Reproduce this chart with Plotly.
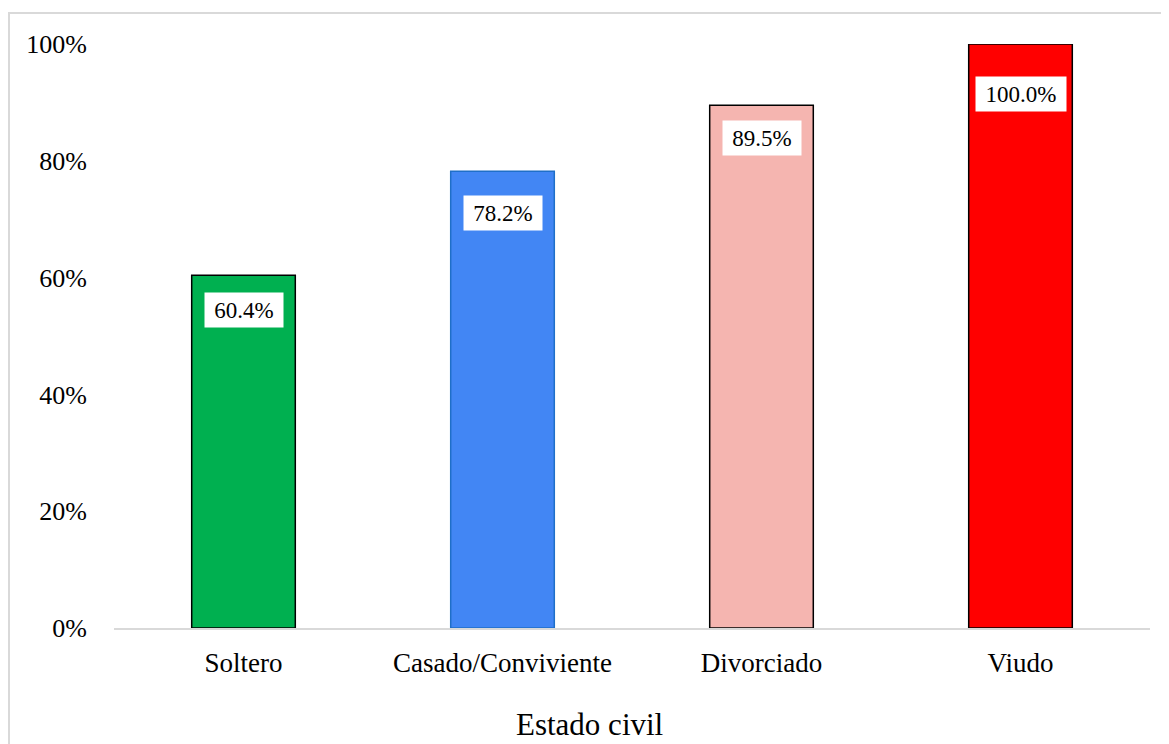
import plotly.graph_objects as go

categories = ["Soltero", "Casado/Conviviente", "Divorciado", "Viudo"]
values = [60.4, 78.2, 89.5, 100.0]
labels = ["60.4%", "78.2%", "89.5%", "100.0%"]
y_ticks = [0, 20, 40, 60, 80, 100]
y_ticktext = ["0%", "20%", "40%", "60%", "80%", "100%"]

fill_colors = ["#00B050", "#4286F4", "#F5B5B0", "#FF0000"]
line_colors = ["#000000", "#1F6FC8", "#000000", "#000000"]
label_offsets = [35, 42, 33, 50]

FONT = "Liberation Serif, Times New Roman, serif"

fig = go.Figure()
fig.add_trace(go.Bar(
    x=categories, y=values,
    marker=dict(color=fill_colors, line=dict(color=line_colors, width=1.5)),
    hoverinfo="skip",
))

annotations = []
for c, v, t, off in zip(categories, values, labels, label_offsets):
    annotations.append(dict(
        x=c, y=v, xref="x", yref="y", text=t, showarrow=False,
        yshift=-off, bgcolor="white", width=78 if len(t) < 6 else 90, height=34,
        borderpad=0, font=dict(family=FONT, size=23, color="#000000"),
    ))
annotations.append(dict(
    x=0.4585, y=-0.1645, xref="paper", yref="paper", text="Estado civil",
    showarrow=False, yanchor="middle", font=dict(family=FONT, size=31, color="#000000"),
))

fig.update_layout(
    width=1169, height=744,
    margin=dict(l=106, r=27, t=36, b=124),
    paper_bgcolor="white", plot_bgcolor="white",
    bargap=0.6, showlegend=False,
    font=dict(family=FONT, color="#000000"),
    annotations=annotations,
    shapes=[dict(type="rect", xref="paper", yref="paper",
                 x0=(1 - 106) / 1036, x1=1.05, y0=-0.25, y1=(620 - 5) / 584,
                 line=dict(color="#D9D9D9", width=2), fillcolor="rgba(0,0,0,0)",
                 layer="below")],
)
fig.update_yaxes(range=[0, 100], tickvals=y_ticks, ticktext=y_ticktext,
                 showgrid=False, zeroline=False, showline=False,
                 tickfont=dict(family=FONT, size=26, color="#000000"),
                 ticklabelstandoff=26)
fig.update_xaxes(showgrid=False, showline=True, linecolor="#D9D9D9", linewidth=2,
                 ticks="", tickfont=dict(family=FONT, size=27, color="#000000"),
                 ticklabelstandoff=10)

fig.write_html("out.html")
